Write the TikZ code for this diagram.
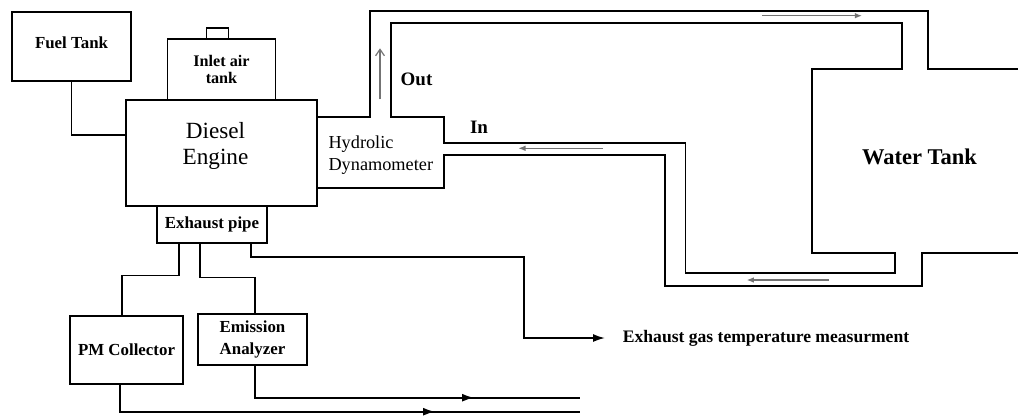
\documentclass[tikz,border=0pt]{standalone}
\usepackage{fontspec}
\setmainfont{Liberation Serif}
\usepackage{tikz}
\usetikzlibrary{arrows.meta, positioning}

\begin{document}
\begin{tikzpicture}[
    x=0.025cm, y=-0.025cm,
    line width=1.2pt,
    unit/.style={rectangle, draw, outer sep=0pt, inner sep=2pt, align=center, font=\bfseries\fontsize{12}{15}\selectfont},
    pipe/.style={line join=miter},
    arrow/.style={-{Latex[length=3mm, width=2mm]}},
    flow/.style={-{Latex[length=1.8mm, width=1.4mm]}, line width=0.85pt, black!55},
    tag/.style={font=\bfseries\fontsize{13.5}{16}\selectfont}
]
\useasboundingbox (0,0) rectangle (1018,416);

\node[unit, minimum width=4.775cm, minimum height=2.65cm,
    label={[name=enginetext, align=center, font=\fontsize{16.5}{18.5}\selectfont, xshift=-0.15cm, yshift=0.17cm]center:Diesel\\Engine}] (engine) at (221.5,153) {};
\node[unit, minimum width=2.7cm, minimum height=1.525cm, above=0pt of engine, font=\bfseries\fontsize{11.5}{11.5}\selectfont] (inlet) {Inlet air\\tank};
\node[unit, minimum width=0.55cm, minimum height=0.275cm, inner sep=0pt, above=0pt of inlet, xshift=-0.1cm] (cap) {};
\node[unit, minimum width=2.975cm, minimum height=1.725cm,
    label={[name=fueltext, font=\bfseries\fontsize{12}{15}\selectfont, yshift=0.1cm]center:Fuel Tank}] (fuel) at (71.5,46.5) {};
\node[unit, minimum width=2.75cm, minimum height=0.925cm, below=0pt of engine, xshift=-0.2375cm] (exhaust) {Exhaust pipe};
\node[unit, minimum width=2.825cm, minimum height=1.7cm] (pm) at (126.5,350) {PM Collector};
\node[unit, minimum width=2.725cm, minimum height=1.275cm] (emission) at (252.5,339.5) {Emission\\Analyzer};

% dynamometer and water circuit
\draw[pipe] (317,116.7) -- (370,116.7) -- (370,10.7) -- (927.7,10.7) -- (927.7,69.3)
    -- (1020,69.3) -- (1020,253.3) -- (921.7,253.3) -- (921.7,285.7) -- (665,285.7)
    -- (665,155) -- (444.3,155) -- (444.3,188.3) -- (317,188.3);
\draw[pipe] (391,116.7) -- (391,22.7) -- (902.3,22.7) -- (902.3,69.3) -- (812.3,69.3)
    -- (812.3,253.3) -- (895,253.3) -- (895,273.3) -- (685.5,273.3) -- (685.5,143.3)
    -- (444.3,143.3) -- (444.3,116.7) -- cycle;

\node[font=\fontsize{13}{15.6}\selectfont, align=left, anchor=west] (dyn) at (323,155) {Hydrolic\\Dynamometer};
\node[tag] (out) at (416.5,79) {Out};
\node[tag] (in) at (479,127.3) {In};
\node[font=\bfseries\fontsize{16}{19}\selectfont] (water) at (919.5,157) {Water Tank};
\node[anchor=west, font=\bfseries\fontsize{12.5}{15}\selectfont] (temp) at (617.4,338) {Exhaust gas temperature measurment};

% flow direction
\draw[flow, -{Straight Barb[length=1.6mm, width=2.2mm]}] (380,99.3) -- (380,48.3);
\draw[flow] (762,15.7) -- (862,15.7);
\draw[flow] (603,148.3) -- (518.3,148.3);
\draw[flow] (829,280) -- (746.7,280);

% connections
\coordinate (feed) at (126,135);
\coordinate (pmout) at (580,411.7);
\coordinate (emout) at (580,397.7);
\draw (fuel.south) |- (feed);
\draw ([xshift=-0.83cm]exhaust.south) -- ++(0,32.4) -| ([xshift=-0.12cm]pm.north);
\draw ([xshift=-0.3cm]exhaust.south) -- ++(0,34.4) -| ([xshift=0.06cm]emission.north);
\draw[arrow, shorten >=0.31cm] ([xshift=0.97cm]exhaust.south) |- (524.3,257) |- (temp.west);
\draw ([xshift=-0.16cm]pm.south) |- (pmout);
\draw[arrow] (415,411.7) -- (435,411.7);
\draw ([xshift=0.06cm]emission.south) |- (emout);
\draw[arrow] (455,397.7) -- (474,397.7);

\end{tikzpicture}
\end{document}
